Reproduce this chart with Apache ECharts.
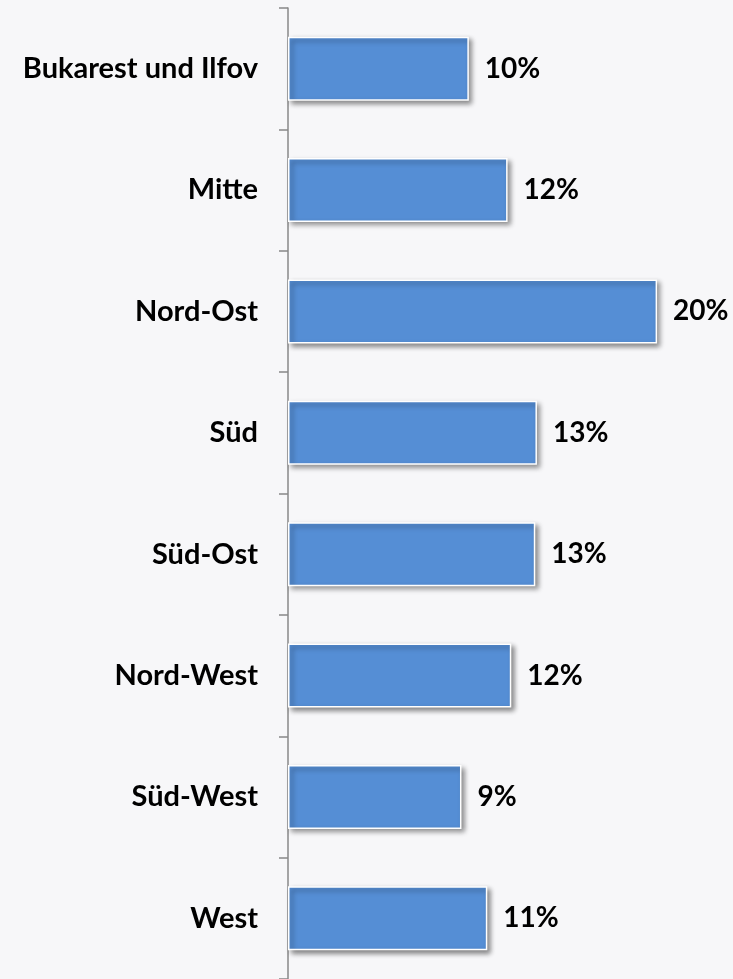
<!DOCTYPE html>
<html lang="de">
<head>
    <meta charset="UTF-8">
    <title>Regionen</title>
    <script src="https://cdn.jsdelivr.net/npm/echarts@6/dist/echarts.min.js"></script>
    <style>
        html, body { margin: 0; padding: 0; background: #f7f7f9; }
    </style>
</head>
<body>
<div id="main" style="width: 733px;height: 979px"></div>

<script>
    var regions = ['Bukarest und Ilfov', 'Mitte', 'Nord-Ost', 'Süd', 'Süd-Ost', 'Nord-West', 'Süd-West', 'West'];
    var shares = [9.8, 11.9, 20.0, 13.49, 13.4, 12.1, 9.4, 10.8];

    var myChart = echarts.init(document.getElementById('main'));
    var font = 'Lato, "Open Sans", sans-serif';

    var option = {
        backgroundColor: '#f7f7f9',
        animation: false,
        grid: {
            left: 288,
            top: 8,
            height: 973,
            right: 39
        },
        xAxis: {
            type: 'value',
            min: 0,
            max: 22,
            show: false
        },
        yAxis: {
            type: 'category',
            data: regions,
            inverse: true,
            axisLine: { show: true, lineStyle: { color: '#888888', width: 1.5 } },
            axisTick: { show: true, length: 9, lineStyle: { color: '#888888', width: 1.5 } },
            axisLabel: {
                margin: 30,
                color: '#000',
                fontFamily: font,
                fontWeight: 'bold',
                fontSize: 29
            }
        },
        series: [{
            type: 'bar',
            data: shares,
            barWidth: 64,
            itemStyle: {
                color: '#558ed5',
                borderColor: '#ffffff',
                borderWidth: 1.5,
                shadowColor: 'rgba(0,0,0,0.45)',
                shadowBlur: 5,
                shadowOffsetX: 3,
                shadowOffsetY: 3
            },
            label: {
                show: true,
                position: 'right',
                distance: 16,
                color: '#000',
                fontFamily: font,
                fontWeight: 'bold',
                fontSize: 28,
                formatter: function (p) { return Math.round(p.value) + '%'; }
            }
        }]
    };

    myChart.setOption(option);
</script>
</body>
</html>
